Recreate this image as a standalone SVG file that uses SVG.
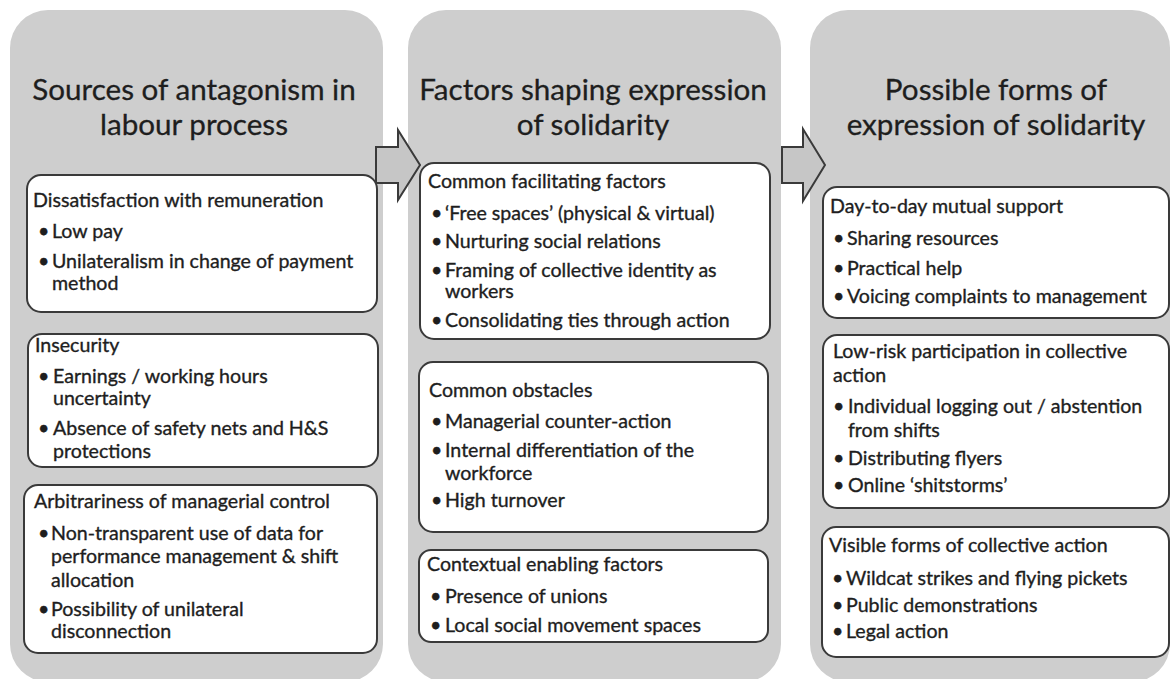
<svg xmlns="http://www.w3.org/2000/svg" width="1171" height="679" viewBox="0 0 1171 679">
<style>
.panel{fill:#cecece;}
.box{fill:#ffffff;stroke:#3a3a3a;stroke-width:2;}
.arrow{fill:#c6c6c6;stroke:#3a3a3a;stroke-width:2;stroke-linejoin:miter;}
.title{font-family:Lato,"Open Sans","Liberation Sans",sans-serif;font-size:29.6px;fill:#1e1e1e;stroke:#1e1e1e;stroke-width:0.3;text-anchor:middle;}
.t{font-family:Lato,"Open Sans","Liberation Sans",sans-serif;font-size:19.6px;fill:#1e1e1e;stroke:#1e1e1e;stroke-width:0.35;}
</style>
<rect width="1171" height="679" fill="#ffffff"/>
<g id="panel-sources">
<rect class="panel" x="10" y="10" width="373" height="672" rx="38"/>
<text class="title" x="194" y="100">Sources of antagonism in</text>
<text class="title" x="194" y="135">labour process</text>
</g>
<g id="panel-factors">
<rect class="panel" x="408" y="10" width="373" height="672" rx="38"/>
<text class="title" x="593" y="100">Factors shaping expression</text>
<text class="title" x="593" y="135">of solidarity</text>
</g>
<g id="panel-forms">
<rect class="panel" x="810" y="10" width="360" height="672" rx="38"/>
<text class="title" x="996" y="100">Possible forms of</text>
<text class="title" x="996" y="135">expression of solidarity</text>
</g>
<g id="box-remuneration">
<rect class="box" x="27" y="175" width="350" height="137" rx="14"/>
<text class="t" x="33" y="207">Dissatisfaction with remuneration</text>
<text class="t" x="38" y="238">•</text><text class="t" x="52" y="238">Low pay</text>
<text class="t" x="38" y="268">•</text><text class="t" x="52" y="268">Unilateralism in change of payment</text>
<text class="t" x="52" y="290">method</text>
</g>
<g id="box-insecurity">
<rect class="box" x="28" y="334" width="350" height="133" rx="14"/>
<text class="t" x="35" y="352">Insecurity</text>
<text class="t" x="38" y="383">•</text><text class="t" x="53" y="383">Earnings / working hours</text>
<text class="t" x="53" y="405">uncertainty</text>
<text class="t" x="38" y="435">•</text><text class="t" x="53" y="435">Absence of safety nets and H&amp;S</text>
<text class="t" x="53" y="458">protections</text>
</g>
<g id="box-arbitrariness">
<rect class="box" x="24" y="485" width="353" height="168" rx="14"/>
<text class="t" x="34" y="508">Arbitrariness of managerial control</text>
<text class="t" x="38" y="540">•</text><text class="t" x="51" y="540">Non-transparent use of data for</text>
<text class="t" x="51" y="563">performance management &amp; shift</text>
<text class="t" x="51" y="587">allocation</text>
<text class="t" x="38" y="616">•</text><text class="t" x="51" y="616">Possibility of unilateral</text>
<text class="t" x="51" y="638">disconnection</text>
</g>
<g id="box-facilitating">
<rect class="box" x="420" y="163" width="350" height="176" rx="14"/>
<text class="t" x="428" y="188">Common facilitating factors</text>
<text class="t" x="431" y="220">•</text><text class="t" x="445" y="220">‘Free spaces’ (physical &amp; virtual)</text>
<text class="t" x="431" y="248">•</text><text class="t" x="445" y="248">Nurturing social relations</text>
<text class="t" x="431" y="277">•</text><text class="t" x="445" y="277">Framing of collective identity as</text>
<text class="t" x="445" y="298">workers</text>
<text class="t" x="431" y="327">•</text><text class="t" x="445" y="327">Consolidating ties through action</text>
</g>
<g id="box-obstacles">
<rect class="box" x="419" y="362" width="349" height="170" rx="14"/>
<text class="t" x="429" y="397">Common obstacles</text>
<text class="t" x="431" y="428">•</text><text class="t" x="445" y="428">Managerial counter-action</text>
<text class="t" x="431" y="457">•</text><text class="t" x="445" y="457">Internal differentiation of the</text>
<text class="t" x="445" y="480">workforce</text>
<text class="t" x="431" y="507">•</text><text class="t" x="445" y="507">High turnover</text>
</g>
<g id="box-contextual">
<rect class="box" x="419" y="550" width="349" height="92" rx="12"/>
<text class="t" x="427" y="571">Contextual enabling factors</text>
<text class="t" x="430" y="603">•</text><text class="t" x="445" y="603">Presence of unions</text>
<text class="t" x="430" y="632">•</text><text class="t" x="445" y="632">Local social movement spaces</text>
</g>
<g id="box-mutual">
<rect class="box" x="823" y="187" width="346" height="131" rx="14"/>
<text class="t" x="830" y="213">Day-to-day mutual support</text>
<text class="t" x="833" y="245">•</text><text class="t" x="847" y="245">Sharing resources</text>
<text class="t" x="833" y="275">•</text><text class="t" x="847" y="275">Practical help</text>
<text class="t" x="833" y="303">•</text><text class="t" x="847" y="303">Voicing complaints to management</text>
</g>
<g id="box-lowrisk">
<rect class="box" x="823" y="335" width="346" height="173" rx="14"/>
<text class="t" x="833" y="358">Low-risk participation in collective</text>
<text class="t" x="833" y="382">action</text>
<text class="t" x="833" y="413">•</text><text class="t" x="848" y="413">Individual logging out / abstention</text>
<text class="t" x="848" y="437">from shifts</text>
<text class="t" x="833" y="465">•</text><text class="t" x="848" y="465">Distributing flyers</text>
<text class="t" x="833" y="492">•</text><text class="t" x="848" y="492">Online ‘shitstorms’</text>
</g>
<g id="box-visible">
<rect class="box" x="822" y="527" width="347" height="130" rx="14"/>
<text class="t" x="829" y="552">Visible forms of collective action</text>
<text class="t" x="832" y="585">•</text><text class="t" x="846" y="585">Wildcat strikes and flying pickets</text>
<text class="t" x="832" y="612">•</text><text class="t" x="846" y="612">Public demonstrations</text>
<text class="t" x="832" y="638">•</text><text class="t" x="846" y="638">Legal action</text>
</g>
<g id="connectors">
<polygon class="arrow" points="376,147 398,147 398,130 420,165 398,200 398,183 376,183"/>
<polygon class="arrow" points="782,147 803,147 803,129 825,165 803,201 803,183 782,183"/>
</g>
</svg>
